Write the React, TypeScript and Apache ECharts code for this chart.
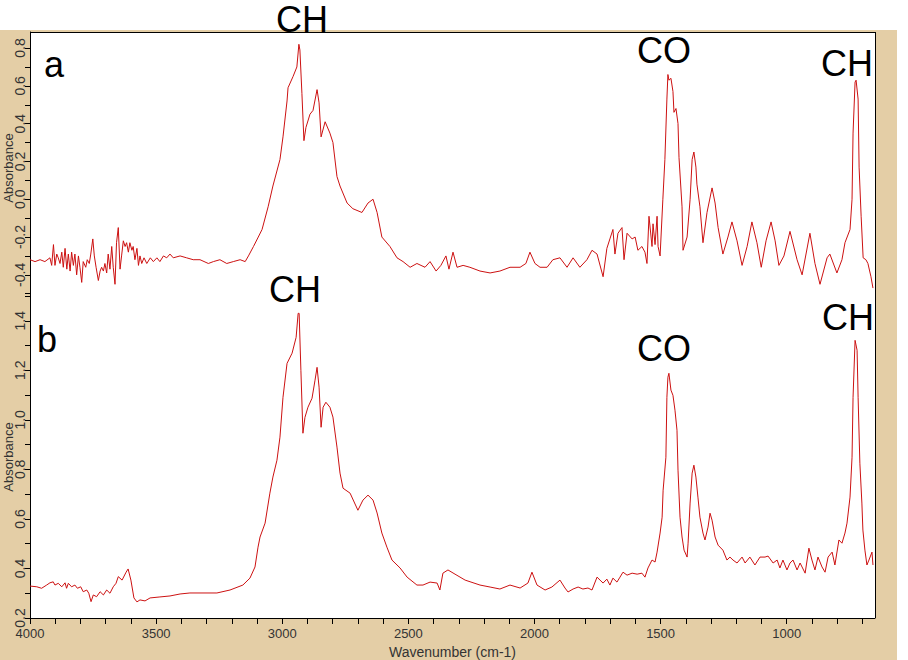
import React, { useEffect, useRef } from "react";
import * as echarts from "echarts";

// ---- data (wavenumber cm-1, absorbance) ----
const spectrumA: [number, number][] = [
  [4000,-0.32],[3980,-0.33],[3960,-0.32],[3941,-0.33],[3921,-0.31],[3914,-0.35],[3907,-0.24],[3901,-0.35],[3894,-0.29],[3888,-0.31],
  [3881,-0.34],[3874,-0.28],[3868,-0.36],[3861,-0.26],[3854,-0.37],[3848,-0.29],[3841,-0.38],[3835,-0.28],[3828,-0.35],[3822,-0.29],
  [3815,-0.40],[3808,-0.30],[3802,-0.36],[3795,-0.44],[3789,-0.33],[3779,-0.36],[3773,-0.32],[3765,-0.34],[3759,-0.29],[3751,-0.21],
  [3745,-0.30],[3738,-0.36],[3729,-0.43],[3722,-0.38],[3716,-0.36],[3709,-0.38],[3703,-0.34],[3696,-0.39],[3690,-0.29],[3683,-0.37],
  [3676,-0.25],[3670,-0.36],[3663,-0.45],[3657,-0.23],[3650,-0.15],[3643,-0.37],[3637,-0.30],[3630,-0.22],[3623,-0.25],[3617,-0.23],
  [3610,-0.28],[3604,-0.23],[3596,-0.27],[3591,-0.25],[3584,-0.32],[3576,-0.26],[3570,-0.35],[3564,-0.30],[3557,-0.34],[3548,-0.31],
  [3537,-0.34],[3523,-0.31],[3511,-0.33],[3497,-0.31],[3485,-0.33],[3471,-0.30],[3458,-0.31],[3445,-0.29],[3432,-0.31],[3405,-0.30],
  [3379,-0.31],[3353,-0.32],[3326,-0.32],[3293,-0.34],[3273,-0.33],[3247,-0.32],[3220,-0.34],[3194,-0.33],[3167,-0.32],[3147,-0.33],
  [3134,-0.30],[3114,-0.25],[3095,-0.20],[3080,-0.16],[3056,-0.04],[3037,0.07],[3009,0.21],[2997,0.33],[2981,0.52],[2977,0.59],
  [2957,0.65],[2942,0.70],[2934,0.82],[2930,0.79],[2922,0.56],[2914,0.31],[2906,0.38],[2890,0.45],[2878,0.47],[2862,0.58],
  [2854,0.51],[2846,0.33],[2830,0.41],[2811,0.35],[2799,0.30],[2783,0.12],[2771,0.07],[2743,-0.02],[2720,-0.05],[2684,-0.07],
  [2660,-0.02],[2640,0.00],[2624,-0.07],[2605,-0.20],[2573,-0.25],[2545,-0.31],[2521,-0.33],[2493,-0.36],[2466,-0.34],[2434,-0.36],
  [2414,-0.33],[2390,-0.38],[2371,-0.35],[2351,-0.30],[2339,-0.37],[2323,-0.28],[2307,-0.36],[2283,-0.35],[2256,-0.36],[2216,-0.38],
  [2176,-0.39],[2137,-0.38],[2097,-0.36],[2057,-0.36],[2034,-0.34],[2018,-0.28],[1998,-0.34],[1978,-0.36],[1950,-0.36],[1927,-0.32],
  [1899,-0.31],[1871,-0.36],[1847,-0.31],[1820,-0.36],[1792,-0.32],[1772,-0.27],[1752,-0.29],[1728,-0.41],[1713,-0.26],[1701,-0.21],
  [1689,-0.16],[1681,-0.29],[1669,-0.18],[1653,-0.15],[1645,-0.32],[1633,-0.18],[1613,-0.21],[1601,-0.20],[1590,-0.27],[1574,-0.25],
  [1562,-0.28],[1554,-0.34],[1546,-0.09],[1534,-0.25],[1530,-0.13],[1522,-0.24],[1514,-0.09],[1510,-0.25],[1502,-0.30],[1491,0.00],
  [1483,0.21],[1475,0.53],[1471,0.66],[1467,0.63],[1459,0.64],[1451,0.57],[1447,0.46],[1439,0.48],[1431,0.40],[1427,0.22],
  [1415,-0.04],[1411,-0.27],[1395,-0.20],[1383,0.00],[1375,0.21],[1368,0.25],[1360,0.17],[1356,0.08],[1344,-0.04],[1332,-0.23],
  [1316,-0.07],[1296,0.06],[1284,-0.02],[1272,-0.15],[1253,-0.29],[1233,-0.20],[1217,-0.12],[1197,-0.22],[1177,-0.35],[1157,-0.25],
  [1138,-0.12],[1118,-0.23],[1101,-0.36],[1082,-0.22],[1062,-0.12],[1046,-0.22],[1031,-0.35],[1011,-0.30],[987,-0.17],[959,-0.32],
  [939,-0.40],[908,-0.18],[888,-0.34],[868,-0.45],[840,-0.31],[829,-0.29],[801,-0.39],[781,-0.32],[769,-0.23],[749,-0.16],
  [741,0.00],[737,0.35],[729,0.62],[725,0.63],[717,0.53],[713,0.17],[705,-0.09],[697,-0.31],[686,-0.32],[678,-0.34],
  [666,-0.41],[658,-0.47],
];

const spectrumB: [number, number][] = [
  [4000,0.329],[3973,0.326],[3954,0.320],[3934,0.333],[3921,0.342],[3908,0.346],[3901,0.333],[3888,0.340],[3874,0.326],[3861,0.342],
  [3855,0.320],[3848,0.340],[3835,0.326],[3822,0.333],[3812,0.320],[3799,0.326],[3789,0.306],[3775,0.313],[3767,0.300],[3758,0.266],
  [3749,0.293],[3736,0.286],[3722,0.306],[3709,0.293],[3696,0.313],[3683,0.300],[3670,0.326],[3659,0.340],[3650,0.367],[3635,0.353],
  [3619,0.385],[3611,0.398],[3600,0.353],[3588,0.281],[3576,0.265],[3564,0.273],[3544,0.269],[3524,0.281],[3485,0.285],[3445,0.289],
  [3405,0.297],[3366,0.301],[3326,0.301],[3259,0.301],[3207,0.313],[3156,0.333],[3128,0.361],[3108,0.406],[3096,0.486],[3088,0.527],
  [3068,0.583],[3049,0.704],[3037,0.769],[3021,0.837],[3009,0.930],[2997,1.091],[2981,1.228],[2961,1.269],[2945,1.333],[2937,1.430],
  [2933,1.430],[2926,1.200],[2918,0.946],[2910,1.010],[2898,1.051],[2882,1.087],[2870,1.160],[2862,1.212],[2854,1.132],[2846,0.970],
  [2838,1.051],[2827,1.071],[2811,1.051],[2799,1.011],[2783,0.890],[2771,0.785],[2759,0.724],[2731,0.704],[2700,0.635],[2680,0.676],
  [2660,0.696],[2640,0.676],[2624,0.624],[2605,0.543],[2585,0.486],[2565,0.434],[2533,0.402],[2505,0.365],[2466,0.333],[2442,0.333],
  [2414,0.345],[2386,0.341],[2375,0.313],[2363,0.381],[2343,0.394],[2315,0.377],[2275,0.353],[2216,0.333],[2176,0.325],[2137,0.317],
  [2097,0.333],[2057,0.321],[2026,0.341],[2010,0.385],[1990,0.333],[1958,0.313],[1931,0.325],[1899,0.353],[1879,0.321],[1867,0.305],
  [1847,0.317],[1827,0.325],[1808,0.317],[1788,0.321],[1772,0.313],[1752,0.365],[1740,0.353],[1728,0.341],[1713,0.357],[1701,0.333],
  [1689,0.361],[1673,0.345],[1661,0.365],[1649,0.385],[1633,0.373],[1613,0.381],[1593,0.377],[1574,0.381],[1562,0.365],[1550,0.402],
  [1534,0.434],[1522,0.426],[1514,0.466],[1502,0.543],[1494,0.607],[1490,0.716],[1479,0.849],[1475,1.091],[1471,1.172],[1467,1.188],
  [1459,1.120],[1451,1.099],[1443,1.039],[1435,0.958],[1431,0.797],[1423,0.607],[1415,0.527],[1407,0.474],[1395,0.446],[1391,0.502],
  [1383,0.664],[1375,0.785],[1368,0.817],[1360,0.769],[1352,0.688],[1344,0.607],[1332,0.543],[1324,0.515],[1312,0.567],[1304,0.623],
  [1296,0.595],[1284,0.527],[1272,0.494],[1253,0.474],[1237,0.434],[1225,0.446],[1213,0.434],[1197,0.422],[1177,0.446],[1165,0.422],
  [1146,0.446],[1126,0.414],[1106,0.446],[1086,0.446],[1074,0.450],[1054,0.422],[1038,0.434],[1027,0.402],[1015,0.434],[999,0.394],
  [987,0.422],[975,0.434],[959,0.394],[947,0.422],[927,0.381],[912,0.482],[900,0.434],[888,0.394],[876,0.446],[860,0.406],
  [848,0.385],[836,0.446],[820,0.466],[809,0.414],[793,0.515],[781,0.502],[769,0.543],[761,0.583],[749,0.688],[741,0.849],
  [737,1.091],[729,1.321],[721,1.281],[717,1.091],[710,0.825],[702,0.664],[698,0.555],[690,0.474],[682,0.414],[674,0.434],
  [662,0.466],[658,0.414],
];

const xLabelValues = [4000, 3500, 3000, 2500, 2000, 1500, 1000];
const xTickValues = [
  4000, 3900, 3800, 3700, 3600, 3500, 3400, 3300, 3200, 3100, 3000, 2900, 2800, 2700, 2600, 2500, 2400, 2300,
  2200, 2100, 2000, 1900, 1800, 1700, 1600, 1500, 1400, 1300, 1200, 1100, 1000, 900, 800, 700,
];
const yLabelsA = [-0.4, -0.2, 0.0, 0.2, 0.4, 0.6, 0.8];
const yTicksA = [-0.5, -0.4, -0.3, -0.2, -0.1, 0.0, 0.1, 0.2, 0.3, 0.4, 0.5, 0.6, 0.7, 0.8];
const yLabelsB = [0.2, 0.4, 0.6, 0.8, 1.0, 1.2, 1.4];
const yTicksB = [0.2, 0.3, 0.4, 0.5, 0.6, 0.7, 0.8, 0.9, 1.0, 1.1, 1.2, 1.3, 1.4, 1.5];

const annotations = [
  { text: "CH", x: 302, y: 19 },
  { text: "CO", x: 664, y: 50 },
  { text: "CH", x: 847, y: 63 },
  { text: "a", x: 54, y: 64 },
  { text: "CH", x: 295, y: 289 },
  { text: "CO", x: 664, y: 348 },
  { text: "CH", x: 848, y: 317 },
  { text: "b", x: 47, y: 339 },
];
const yTitles = [
  { text: "Absorbance", x: 8, y: 168 },
  { text: "Absorbance", x: 8, y: 457 },
];

const TAN = "#E4CEA6";
const RED = "#CC1111";
const SANS = "'Liberation Sans', Arial, sans-serif";
const NARROW = "'Liberation Sans Narrow', 'Arial Narrow', 'Liberation Sans', sans-serif";

export default function App() {
  const ref = useRef<HTMLDivElement>(null);
  useEffect(() => {
    document.body.style.margin = "0";
    if (!ref.current) return;
    const chart = echarts.init(ref.current, undefined, { renderer: "svg" });
    const yAxisCommon = (labels: number[], ticks: number[]) => ({
      type: "value",
      axisLine: { show: true, lineStyle: { color: "#000", width: 1 } },
      axisTick: { show: true, customValues: ticks, length: 5, inside: false, lineStyle: { color: "#000" } },
      axisLabel: {
        customValues: labels,
        rotate: 90,
        margin: 3,
        fontFamily: NARROW,
        fontSize: 14,
        color: "#333",
        formatter: (v: number) => v.toFixed(1),
      },
      splitLine: { show: false },
    });
    chart.setOption({
      animation: false,
      backgroundColor: TAN,
      grid: [
        { left: 30, top: 32, width: 845, height: 264, show: true, backgroundColor: "#fff", borderWidth: 0, containLabel: false, outerBoundsMode: "none" },
        { left: 30, top: 296, width: 845, height: 322, show: true, backgroundColor: "#fff", borderWidth: 0, containLabel: false, outerBoundsMode: "none" },
      ],
      xAxis: [
        { gridIndex: 0, type: "value", min: 650, max: 4000, inverse: true, show: false },
        {
          gridIndex: 1,
          type: "value",
          min: 650,
          max: 4000,
          inverse: true,
          name: "Wavenumber (cm-1)",
          nameLocation: "middle",
          nameGap: 27,
          nameTextStyle: { fontFamily: SANS, fontSize: 14, color: "#333" },
          axisLine: { show: true, onZero: false, lineStyle: { color: "#000", width: 1 } },
          axisTick: { show: true, customValues: xTickValues, length: 6, lineStyle: { color: "#000" } },
          axisLabel: {
            customValues: xLabelValues,
            margin: 9,
            fontFamily: SANS,
            fontSize: 13,
            color: "#333",
            formatter: (v: number) => String(Math.round(v)),
          },
          splitLine: { show: false },
        },
      ],
      yAxis: [
        { gridIndex: 0, min: -0.512, max: 0.885, ...yAxisCommon(yLabelsA, yTicksA) },
        { gridIndex: 1, min: 0.2, max: 1.5, ...yAxisCommon(yLabelsB, yTicksB) },
      ],
      series: [
        {
          type: "line",
          xAxisIndex: 0,
          yAxisIndex: 0,
          data: spectrumA,
          showSymbol: false,
          symbol: "none",
          lineStyle: { color: RED, width: 1 },
          silent: true,
        },
        {
          type: "line",
          xAxisIndex: 1,
          yAxisIndex: 1,
          data: spectrumB,
          showSymbol: false,
          symbol: "none",
          lineStyle: { color: RED, width: 1 },
          silent: true,
        },
      ],
      graphic: [
        { type: "rect", shape: { x: 0, y: 0, width: 908, height: 30 }, style: { fill: "#fff" }, z: 1 },
        { type: "rect", shape: { x: 897, y: 30, width: 11, height: 630 }, style: { fill: "#fff" }, z: 1 },
        { type: "line", shape: { x1: 30, y1: 32.5, x2: 875.5, y2: 32.5 }, style: { stroke: "#000", lineWidth: 1 }, z: 20 },
        { type: "line", shape: { x1: 875.5, y1: 32, x2: 875.5, y2: 618 }, style: { stroke: "#000", lineWidth: 1 }, z: 20 },
        ...yTitles.map((t) => ({
          type: "text",
          x: t.x,
          y: t.y,
          rotation: Math.PI / 2,
          z: 30,
          style: {
            text: t.text,
            fill: "#333",
            fontFamily: SANS,
            fontSize: 13,
            align: "center",
            verticalAlign: "middle",
          },
        })),
        ...annotations.map((a) => ({
          type: "text",
          x: a.x,
          y: a.y,
          z: 30,
          style: {
            text: a.text,
            fill: "#000",
            fontFamily: SANS,
            fontSize: 36,
            align: "center",
            verticalAlign: "middle",
          },
        })),
      ],
    });
    return () => chart.dispose();
  }, []);
  return <div ref={ref} style={{ width: 908, height: 660 }} />;
}
